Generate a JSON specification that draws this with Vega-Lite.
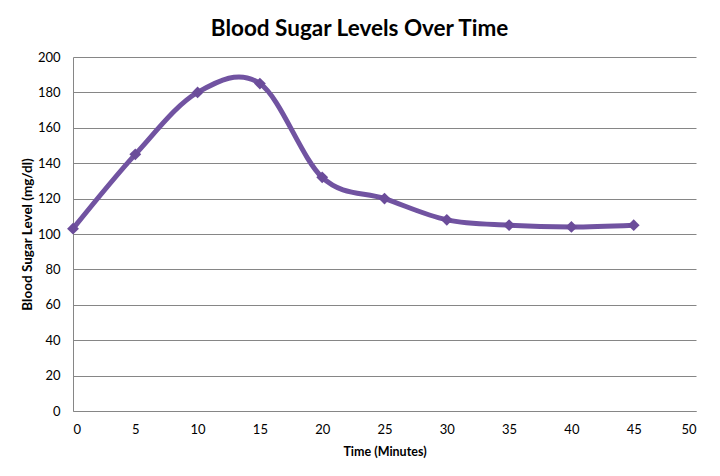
{
  "$schema": "https://vega.github.io/schema/vega-lite/v6.json",
  "autosize": {"type": "none"},
  "width": 623,
  "height": 354,
  "padding": {"left": 73, "top": 57, "right": 24, "bottom": 65},
  "background": "white",
  "config": {
    "font": "Lato",
    "view": {"stroke": null},
    "axis": {"labelFont": "Lato", "titleFont": "Lato", "labelColor": "#000000", "titleColor": "#000000", "ticks": false, "domainColor": "#868686", "gridColor": "#868686", "gridOpacity": 1}
  },
  "title": {"text": "Blood Sugar Levels Over Time", "font": "Lato", "fontSize": 22.5, "fontWeight": "bold", "color": "#000000", "dx": -25, "offset": 11},
  "data": {"values": [
    {"time": 0, "level": 103},
    {"time": 5, "level": 145},
    {"time": 10, "level": 180},
    {"time": 15, "level": 185},
    {"time": 20, "level": 132},
    {"time": 25, "level": 120},
    {"time": 30, "level": 108},
    {"time": 35, "level": 105},
    {"time": 40, "level": 104},
    {"time": 45, "level": 105}
  ]},
  "encoding": {
    "x": {"field": "time", "type": "quantitative", "scale": {"domain": [0, 50], "nice": false, "zero": true},
      "axis": {"title": "Time (Minutes)", "values": [0,5,10,15,20,25,30,35,40,45,50], "grid": false, "labelFontSize": 13, "labelPadding": 12, "titleFontSize": 12.5, "titleFontWeight": "bold", "titlePadding": 9, "domain": true}},
    "y": {"field": "level", "type": "quantitative", "scale": {"domain": [0, 200], "nice": false},
      "axis": {"title": "Blood Sugar Level (mg/dl)", "values": [0,20,40,60,80,100,120,140,160,180,200], "grid": true, "labelFontSize": 13, "labelPadding": 13, "titleFontSize": 13.5, "titleFontWeight": "bold", "titlePadding": 3, "domain": true}}
  },
  "layer": [
    {"mark": {"type": "line", "interpolate": "cardinal", "color": "#7153A1", "strokeWidth": 5, "strokeCap": "round"}},
    {"mark": {"type": "point", "shape": "diamond", "filled": true, "color": "#6B4C9A", "opacity": 1, "size": 140}}
  ]
}
